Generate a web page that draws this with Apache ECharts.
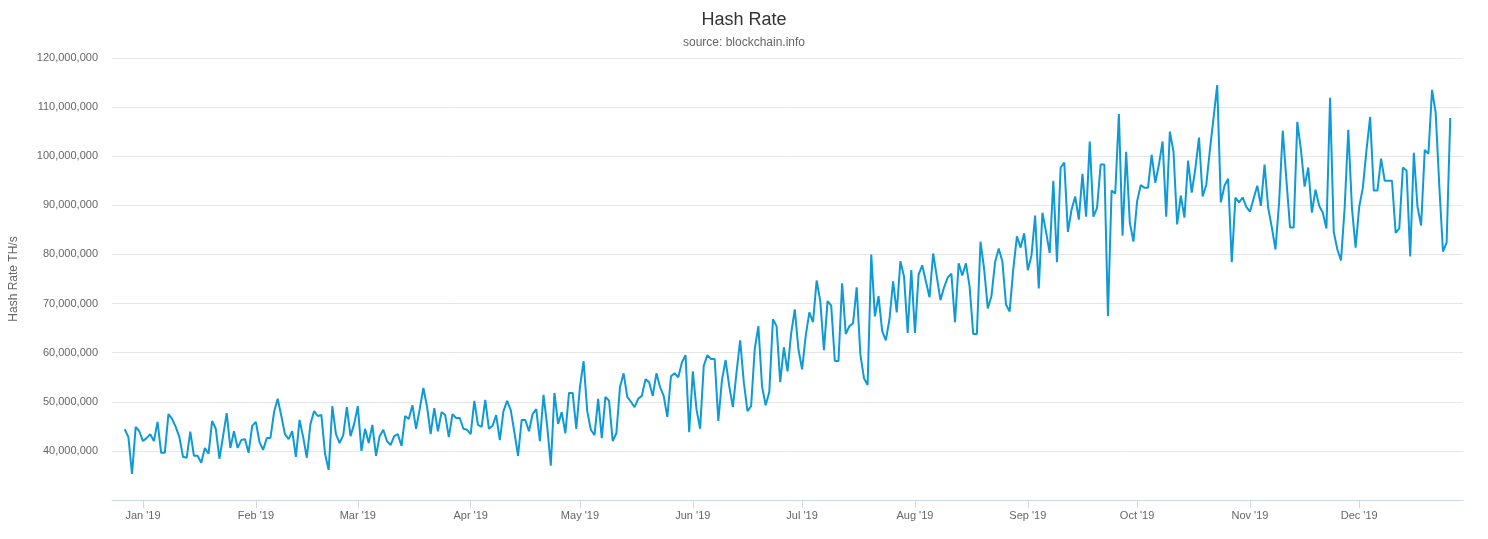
<!DOCTYPE html>
<html>
<head>
<meta charset="utf-8">
<script src="https://cdn.jsdelivr.net/npm/echarts@6/dist/echarts.min.js"></script>
<style>
  html, body { margin: 0; padding: 0; background: #fff; }
  #chart { width: 1488px; height: 539px; }
</style>
</head>
<body>
<div id="chart"></div>
<script>
// daily hash rate, millions TH/s, from 2018-12-27
var hashJan = [44.4,42.8,35.3,44.9,44,42,42.6,43.4,42,45.9,39.6,39.6,47.5,46.5,44.9,42.8,38.8,38.6,43.9,39,
  39,37.6,40.6,39.4,46.1,44.5,38.4,43,47.7,40.6,44,40.6,42.2,42.4,39.6,45.1,45.9,41.8,40.2,42.6,
  42.6,47.9,50.6,47.1,43.4,42.4,44,38.8,46.3,42.8,38.6,45.5,48.1,47.1,47.3,39.4,36.1,49.1,43.4,41.6,
  43.2,48.9,43];
var hashMar = [45.5,49.1,40,44.5,41.6,45.3,39,43,44.3,42,41.2,43,43.4,41,47.1,46.5,49.3,44.5,48.5,52.8,
  49.1,43.4,48.7,44,47.9,47.3,42.8,47.5,46.7,46.7,44.5,44.3,43.4,50.2,45.3,44.9,50.4,44.5,45.1,47.3,
  42.2,48.1,50.2,48.3,43.8,39,46.3,46.3,44,47.5,48.5,42,51.4,45.1,37,51.8,45.5,47.9,43.6,51.8,
  51.8,44.5];
var hashMay = [53,58.3,48.1,44.3,43.2,50.6,42.6,51,50.2,42,43.6,53,55.8,51,50,48.9,50.6,51.2,54.6,54,
  51.2,55.8,53,51.2,46.9,55.2,55.8,55,58,59.5,43.8,56.2,48.5,44.5,57.3,59.5,58.7,58.7,46.1,54.4,
  58.5,53.2,48.9,56,62.5,54,48.1,49.1,60.7,65.4,53.2,49.3,52,66.8,65.4,54,61.1,56.2,63.9,68.8,
  60.7,56.6,63.4,68.2];
var hashJul = [66.2,74.7,70.5,60.5,70.5,69.6,58.3,58.3,74.1,63.8,65.4,66,73.3,59.7,54.8,53.4,80,67.4,71.5,64.4,
  62.5,66.8,74.5,68.2,78.6,75.5,64,76.8,64,75.9,77.8,74.5,71.3,80.2,75.5,70.7,73.3,75.3,76.1,66.2,
  78.2,75.7,78.2,73.5,63.8,63.8,82.6,77,69,71.5,78.4,81.2,78.6,69.8,68.4,77,83.7,81.4,84.3,76.8,
  79.8,87.9,73.1];
var hashSep = [88.5,84.6,80.3,95,78.4,97.7,98.7,84.6,89.1,91.8,87.1,96.4,87.7,103,87.7,89.5,98.3,98.3,67.4,93,
  92.4,108.6,83.8,100.9,86.5,82.6,90.8,94.1,93.6,93.6,100.3,94.6,98.3,103,87.7,105,100.9,86.1,92,87.5,
  99.1,92.6,97.5,103.8,91.8,94.2,101.3,107.8,114.5,90.6,94,95.4,78.4,91.6,90.6,91.6,89.7,88.7];
var hashNov = [91.4,94,89.9,98.3,89.5,85.5,81,90.6,105.2,95.2,85.5,85.5,107,101.3,93.8,97.7,88.5,93.2,89.9,88.5,
  85.3,111.9,84.6,81,78.8,89.5,105.4,89.5,81.4,89.7,93.6,101.3,108,93,93,99.5,95,95,95,84.4,
  85.3,97.7,97.1,79.6,100.7,89.7,85.9,101.3,100.5,113.5,108.8,93.8,80.6,82.4,107.8];
var monthNames = ['Jan','Feb','Mar','Apr','May','Jun','Jul','Aug','Sep','Oct','Nov','Dec'];

var hashValues = [].concat(hashJan, hashMar, hashMay, hashJul, hashSep, hashNov);
var DAY = 86400000;
var startTime = new Date(2018, 11, 27).getTime();
var seriesData = [];
for (var i = 0; i < hashValues.length; ++i) {
    seriesData.push([startTime + i * DAY, Math.round(hashValues[i] * 1000000)]);
}
var monthTicks = [];
for (var m = 0; m < 12; ++m) {
    monthTicks.push(new Date(2019, m, 1).getTime());
}

var option = {
    animation: false,
    backgroundColor: '#fff',
    title: {
        text: 'Hash Rate',
        subtext: 'source: blockchain.info',
        left: 'center',
        top: 6,
        itemGap: 8,
        textStyle: { fontFamily: 'Liberation Sans', fontSize: 18, fontWeight: 'normal', color: '#333' },
        subtextStyle: { fontFamily: 'Liberation Sans', fontSize: 12, color: '#666' }
    },
    grid: { left: 110, right: 25, top: 58, bottom: 39 },
    xAxis: {
        type: 'value',
        min: new Date(2018, 11, 23, 12).getTime(),
        max: new Date(2019, 11, 29, 12).getTime(),
        axisLine: { onZero: false, lineStyle: { color: '#ccd6eb' } },
        axisTick: { show: true, customValues: monthTicks, length: 8, lineStyle: { color: '#ccd6eb' } },
        axisLabel: {
            customValues: monthTicks,
            color: '#666', fontFamily: 'Liberation Sans', fontSize: 11, margin: 10,
            formatter: function (v) {
                var d = new Date(v);
                return monthNames[d.getMonth()] + " '" + String(d.getFullYear()).slice(2);
            }
        },
        splitLine: { show: false }
    },
    yAxis: {
        type: 'value',
        min: 30000000,
        max: 120000000,
        interval: 10000000,
        name: 'Hash Rate TH/s',
        nameLocation: 'middle',
        nameGap: 92,
        nameTextStyle: { color: '#666', fontFamily: 'Liberation Sans', fontSize: 12 },
        axisLine: { show: false },
        axisTick: { show: false },
        axisLabel: {
            color: '#666', fontFamily: 'Liberation Sans', fontSize: 11, margin: 14,
            formatter: function (v) {
                if (v <= 30000000) return '';
                return v.toString().replace(/\B(?=(\d{3})+(?!\d))/g, ',');
            }
        },
        splitLine: { lineStyle: { color: '#e6e6e6' } }
    },
    series: [{
        name: 'Hash Rate',
        type: 'line',
        data: seriesData,
        showSymbol: false,
        lineStyle: { color: '#0d9ad6', width: 2 },
        itemStyle: { color: '#0d9ad6' }
    }]
};
echarts.init(document.getElementById('chart')).setOption(option);
</script>
</body>
</html>
